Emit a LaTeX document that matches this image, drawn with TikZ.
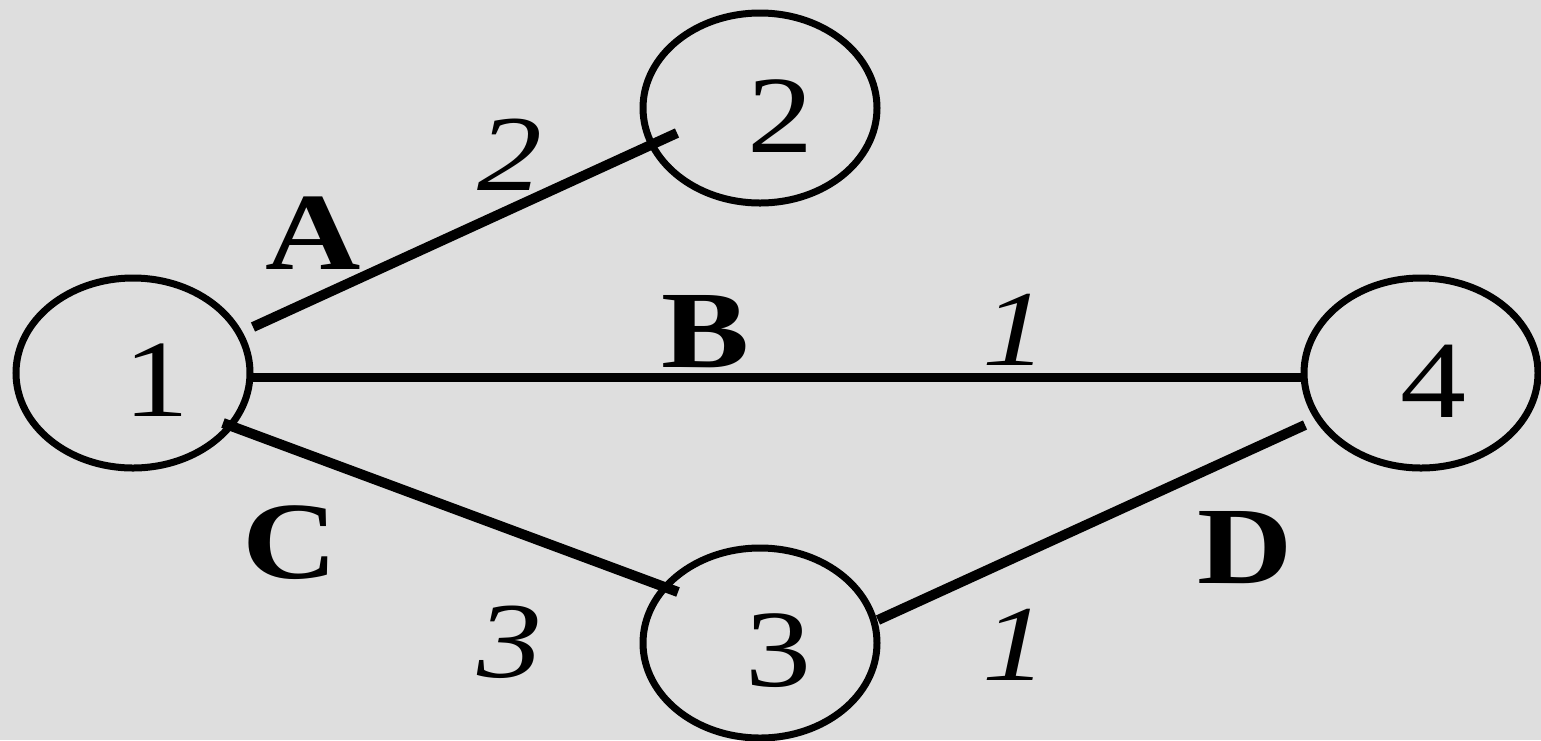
\documentclass[tikz,border=0pt]{standalone}
\usepackage{fontspec}
\setmainfont{Liberation Serif}[FakeStretch=1.2]
\usetikzlibrary{shapes.geometric}
\definecolor{bgc}{HTML}{DEDEDE}
\tikzset{
  circ/.style={ellipse, draw=black, line width=7pt, minimum width=234pt, minimum height=190pt, inner sep=0pt},
  edge/.style={draw=black, line width=9pt},
  thickedge/.style={draw=black, line width=10pt},
  dig/.style={font=\fontsize{110}{110}\selectfont, inner sep=0pt},
  lbl/.style={font=\fontsize{110}{110}\selectfont\bfseries, inner sep=0pt},
  wgt/.style={font=\fontsize{108}{108}\selectfont\itshape, inner sep=0pt}
}
\begin{document}
\begin{tikzpicture}[x=1pt,y=-1pt]
\fill[bgc] (0,0) rectangle (1541,740);
\useasboundingbox (0,0) rectangle (1541,740);
\node[circ, label={[dig, xshift=23pt, yshift=-7pt]center:1}] (n1) at (133,373) {};
\node[circ, label={[dig, xshift=20pt, yshift=-8pt]center:2}] (n2) at (760,108) {};
\node[circ, label={[dig, xshift=18pt, yshift=-8pt]center:3}] (n3) at (760,643) {};
\node[circ, label={[dig, xshift=12pt, yshift=-8pt]center:4}] (n4) at (1421,373) {};
\draw[thickedge] ([shift={(120,-46)}]n1.center) -- ([shift={(-83,25)}]n2.center);
\draw[edge] ([shift={(118,4)}]n1.center) -- ([shift={(-118,4)}]n4.center);
\draw[thickedge] ([shift={(90,50)}]n1.center) -- ([shift={(-82,-51)}]n3.center);
\draw[thickedge] ([shift={(118,-23)}]n3.center) -- ([shift={(-116,52)}]n4.center);
\node[lbl] (la) at (313,233) {A};
\node[lbl] (lb) at (706,332) {B};
\node[lbl] (lc) at (290,543) {C};
\node[lbl] (ld) at (1245,548) {D};
\node[wgt] (w2) at (510,155) {2};
\node[wgt] (w1a) at (1015,330) {1};
\node[wgt] (w3) at (510,642) {3};
\node[wgt] (w1b) at (1015,645) {1};
\end{tikzpicture}
\end{document}
